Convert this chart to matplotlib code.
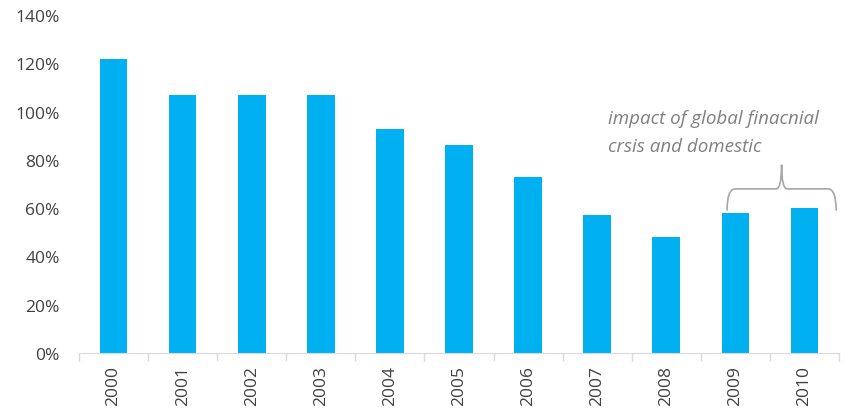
import numpy as np
import matplotlib
matplotlib.use("Agg")
import matplotlib.pyplot as plt
from matplotlib.path import Path
from matplotlib.patches import PathPatch
from matplotlib.ticker import FuncFormatter, MultipleLocator

# data
years = ["2000", "2001", "2002", "2003", "2004", "2005", "2006", "2007", "2008", "2009", "2010"]
values = [122, 107, 107, 107, 93, 86, 73, 57, 48, 58, 60]
note_text = "impact of global finacnial\ncrsis and domestic"

BAR_COLOR = "#00B0F0"
TEXT_COLOR = "#404040"

plt.rcParams['font.family'] = ['Open Sans', 'DejaVu Sans']

fig = plt.figure(figsize=(8.5, 4.14), dpi=100)
ax = fig.add_axes([0.093, 0.145, 0.894, 0.816])

x = np.arange(len(years))
ax.bar(x, values, width=0.4, color=BAR_COLOR, zorder=2)

ax.set_xlim(-0.5, len(years) - 0.5)
ax.set_ylim(0, 140)
ax.yaxis.set_major_locator(MultipleLocator(20))
ax.yaxis.set_major_formatter(FuncFormatter(lambda v, p: f"{v:.0f}%"))

ax.set_xticks(x)
ax.set_xticklabels(years, rotation=90)
ax.set_xticks(np.arange(-0.5, len(years), 1.0), minor=True)
ax.tick_params(axis='x', which='major', length=0, pad=9, labelsize=12.5, colors=TEXT_COLOR)
ax.tick_params(axis='x', which='minor', length=6, color="#d9d9d9", width=1)
ax.tick_params(axis='y', length=0, labelsize=12.5, colors=TEXT_COLOR, pad=14)

for s in ['top', 'right', 'left']:
    ax.spines[s].set_visible(False)
ax.spines['bottom'].set_color("#d9d9d9")

# brace over the last two bars
xl, xr = x[9] - 0.12, x[10] + 0.46
xm = (xl + xr) / 2
y_end, y_line, y_peak = 59, 68, 78
verts = [
    (xl, y_end), (xl, y_line), (xl + 0.12, y_line),
    (xm - 0.08, y_line), (xm, y_line), (xm, y_peak),
    (xr, y_end), (xr, y_line), (xr - 0.12, y_line),
    (xm + 0.08, y_line), (xm, y_line), (xm, y_peak),
]
codes = [Path.MOVETO, Path.CURVE3, Path.CURVE3,
         Path.LINETO, Path.CURVE3, Path.CURVE3] * 2
brace = PathPatch(Path(verts, codes), facecolor='none', edgecolor="#a6a6a6",
                  linewidth=1.2, clip_on=False, zorder=3)
ax.add_patch(brace)

ax.text(x[7] + 0.15, 83.5, note_text, fontsize=13.5, style='italic', color="#7f7f7f",
        ha='left', va='baseline', linespacing=1.75)

fig.savefig("out.png", dpi=100)
